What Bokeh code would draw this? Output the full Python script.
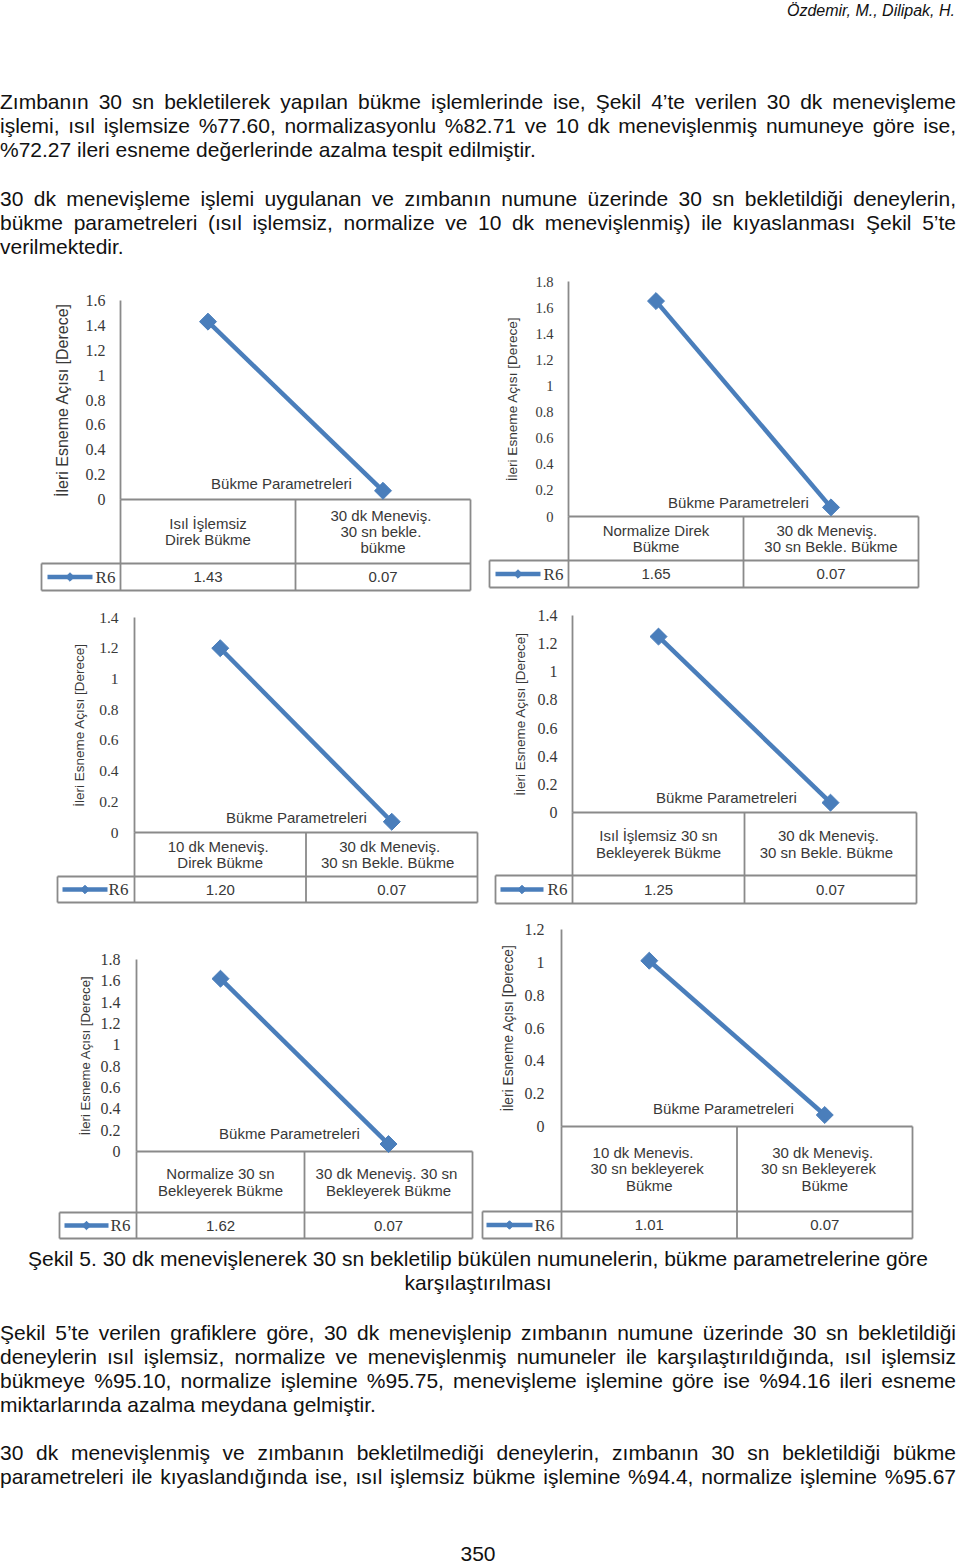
import math
from bokeh.plotting import figure
from bokeh.models import Range1d, LinearAxis, FixedTicker, Div
from bokeh.layouts import column, row
from bokeh.core.properties import value
from bokeh.embed import file_html
from bokeh.resources import INLINE

# ---------------- data ----------------
series_name = "R6"
y_title = "İleri Esneme Açısı [Derece]"
x_title = "Bükme Parametreleri"

cats_1 = ["Isıl İşlemsiz\nDirek Bükme", "30 dk  Meneviş.\n30 sn  bekle.\nbükme"]
vals_1 = [1.43, 0.07]
ticks_1 = [0, 0.2, 0.4, 0.6, 0.8, 1, 1.2, 1.4, 1.6]
ticklabels_1 = ["0", "0.2", "0.4", "0.6", "0.8", "1", "1.2", "1.4", "1.6"]

cats_2 = ["Normalize Direk\nBükme", "30 dk   Meneviş.\n30 sn Bekle. Bükme"]
vals_2 = [1.65, 0.07]
ticks_2 = [0, 0.2, 0.4, 0.6, 0.8, 1, 1.2, 1.4, 1.6, 1.8]
ticklabels_2 = ["0", "0.2", "0.4", "0.6", "0.8", "1", "1.2", "1.4", "1.6", "1.8"]

cats_3 = ["10 dk  Meneviş.\nDirek Bükme", "30 dk  Meneviş.\n30 sn   Bekle. Bükme"]
vals_3 = [1.20, 0.07]
ticks_3 = [0, 0.2, 0.4, 0.6, 0.8, 1, 1.2, 1.4]
ticklabels_3 = ["0", "0.2", "0.4", "0.6", "0.8", "1", "1.2", "1.4"]

cats_4 = ["Isıl İşlemsiz 30 sn\nBekleyerek Bükme", "30 dk  Meneviş.\n30 sn  Bekle.  Bükme"]
vals_4 = [1.25, 0.07]
ticks_4 = [0, 0.2, 0.4, 0.6, 0.8, 1, 1.2, 1.4]
ticklabels_4 = ["0", "0.2", "0.4", "0.6", "0.8", "1", "1.2", "1.4"]

cats_5 = ["Normalize 30 sn\nBekleyerek Bükme", "30 dk  Meneviş. 30 sn\nBekleyerek Bükme"]
vals_5 = [1.62, 0.07]
ticks_5 = [0, 0.2, 0.4, 0.6, 0.8, 1, 1.2, 1.4, 1.6, 1.8]
ticklabels_5 = ["0", "0.2", "0.4", "0.6", "0.8", "1", "1.2", "1.4", "1.6", "1.8"]

cats_6 = ["10 dk    Menevis.\n30 sn  bekleyerek\nBükme", "30 dk  Meneviş.\n30 sn    Bekleyerek\nBükme"]
vals_6 = [1.01, 0.07]
ticks_6 = [0, 0.2, 0.4, 0.6, 0.8, 1, 1.2]
ticklabels_6 = ["0", "0.2", "0.4", "0.6", "0.8", "1", "1.2"]

header_text = "Özdemir, M., Dilipak, H."
para1_lines = [
    "Zımbanın 30 sn bekletilerek yapılan bükme işlemlerinde ise, Şekil 4’te verilen 30 dk menevişleme",
    "işlemi, ısıl işlemsize %77.60, normalizasyonlu %82.71 ve 10 dk menevişlenmiş numuneye göre ise,",
    "%72.27 ileri esneme değerlerinde azalma tespit edilmiştir.",
]
para2_lines = [
    "30 dk menevişleme işlemi uygulanan ve zımbanın numune üzerinde 30 sn bekletildiği deneylerin,",
    "bükme parametreleri (ısıl işlemsiz, normalize ve 10 dk menevişlenmiş) ile kıyaslanması Şekil 5’te",
    "verilmektedir.",
]
caption_lines = [
    "Şekil 5. 30 dk menevişlenerek 30 sn bekletilip bükülen numunelerin, bükme parametrelerine göre",
    "karşılaştırılması",
]
para3_lines = [
    "Şekil 5’te verilen grafiklere göre, 30 dk menevişlenip zımbanın numune üzerinde 30 sn bekletildiği",
    "deneylerin ısıl işlemsiz, normalize ve menevişlenmiş numuneler ile karşılaştırıldığında, ısıl işlemsiz",
    "bükmeye %95.10, normalize işlemine %95.75, menevişleme işlemine göre ise %94.16 ileri esneme",
    "miktarlarında azalma meydana gelmiştir.",
]
para4_lines = [
    "30 dk menevişlenmiş ve zımbanın bekletilmediği deneylerin, zımbanın 30 sn bekletildiği bükme",
    "parametreleri ile kıyaslandığında ise, ısıl işlemsiz bükme işlemine %94.4, normalize işlemine %95.67",
]
page_number = "350"

# ---------------- styling / layout ----------------
SANS = "Liberation Sans"
SERIF = "Liberation Serif"
BLUE = "#4A7EBB"
RULE = "#8A8A8A"
TXT = "#383838"
FIG_W = 480
TEXT_W = 956

charts = [
    dict(cats=cats_1, vals=vals_1, ticks=ticks_1, labels=ticklabels_1),
    dict(cats=cats_2, vals=vals_2, ticks=ticks_2, labels=ticklabels_2),
    dict(cats=cats_3, vals=vals_3, ticks=ticks_3, labels=ticklabels_3),
    dict(cats=cats_4, vals=vals_4, ticks=ticks_4, labels=ticklabels_4),
    dict(cats=cats_5, vals=vals_5, ticks=ticks_5, labels=ticklabels_5),
    dict(cats=cats_6, vals=vals_6, ticks=ticks_6, labels=ticklabels_6),
]

# page-pixel geometry of each chart box
geo = [
    dict(fl=0, ft=270, h=325, ax=120, right=470, tl=41, y0=499, ytop=300, cat_bot=563, dat_bot=590,
         tx=281, ty=483, r6=105, k0=47, k1=92, tick_fs=16, lab_fs=16, tick_so=15, lab_so=12),
    dict(fl=480, ft=270, h=325, ax=568, right=918, tl=489, y0=516, ytop=281, cat_bot=560, dat_bot=587,
         tx=738, ty=502, r6=553, k0=495, k1=540, tick_fs=14.5, lab_fs=13.6, tick_so=15, lab_so=12),
    dict(fl=0, ft=595, h=315, ax=134, right=477, tl=57, y0=832, ytop=617, cat_bot=876, dat_bot=902,
         tx=296, ty=817, r6=118, k0=62, k1=107, tick_fs=15.5, lab_fs=13.5, tick_so=16, lab_so=9),
    dict(fl=480, ft=595, h=315, ax=572, right=916, tl=495, y0=812, ytop=615, cat_bot=875, dat_bot=903,
         tx=726, ty=797, r6=557, k0=500, k1=543, tick_fs=16, lab_fs=13.5, tick_so=15, lab_so=7),
    dict(fl=0, ft=910, h=332, ax=136, right=472, tl=59, y0=1151, ytop=959, cat_bot=1212, dat_bot=1238,
         tx=289, ty=1133, r6=120, k0=64, k1=108, tick_fs=16, lab_fs=13.2, tick_so=16, lab_so=5),
    dict(fl=480, ft=910, h=332, ax=561, right=912, tl=482, y0=1126, ytop=929, cat_bot=1211, dat_bot=1238,
         tx=723, ty=1108, r6=544, k0=486, k1=532, tick_fs=16, lab_fs=13.8, tick_so=17, lab_so=6),
]


def make_chart(c, g):
    n = len(c["cats"])
    H = g["h"]
    cw = (g["right"] - g["ax"]) / float(n)
    ppu = (g["y0"] - g["ytop"]) / float(c["ticks"][-1])

    def px2x(px):
        return (px - g["ax"]) / cw

    def py2y(py):
        return (g["y0"] - py) / ppu

    p = figure(width=FIG_W, height=H,
               x_range=Range1d(px2x(g["fl"]), px2x(g["fl"] + FIG_W)),
               y_range=Range1d(py2y(g["ft"] + H), py2y(g["ft"])),
               x_axis_type=None, y_axis_type=None, toolbar_location=None, tools="",
               output_backend="svg", min_border=0, outline_line_color=None,
               background_fill_color="white", border_fill_color="white", margin=0)

    yax = LinearAxis(fixed_location=0, bounds=(0, c["ticks"][-1]),
                     ticker=FixedTicker(ticks=c["ticks"], minor_ticks=[]),
                     major_label_overrides={t: l for t, l in zip(c["ticks"], c["labels"])},
                     axis_label=y_title, axis_label_text_font=SANS,
                     axis_label_text_font_size=f"{g['lab_fs']}px",
                     axis_label_text_font_style="normal", axis_label_text_color=TXT,
                     axis_label_standoff=g["lab_so"],
                     major_label_text_font=SERIF, major_label_text_font_size=f"{g['tick_fs']}px",
                     major_label_text_color=TXT, major_label_standoff=g["tick_so"],
                     major_tick_line_color=None, minor_tick_line_color=None,
                     major_tick_in=0, major_tick_out=0, minor_tick_in=0, minor_tick_out=0,
                     axis_line_color=RULE, axis_line_width=1.8)
    p.add_layout(yax, "left")

    yc = py2y(g["cat_bot"])
    yd = py2y(g["dat_bot"])
    xl = px2x(g["tl"])

    # data table grid
    x0 = [0, xl, xl, xl] + list(range(0, n + 1))
    y0 = [0, yc, yd, yc] + [0] * (n + 1)
    x1 = [n, n, n, xl] + list(range(0, n + 1))
    y1 = [0, yc, yd, yd] + [yd] * (n + 1)
    p.segment(x0=x0, y0=y0, x1=x1, y1=y1, line_color=RULE, line_width=1.8)

    xs = [i + 0.5 for i in range(n)]
    p.line(xs, c["vals"], line_color=BLUE, line_width=4.5)
    p.scatter(xs, c["vals"], marker="square", angle=math.pi / 4, size=12,
              fill_color=BLUE, line_color=BLUE)

    # axis title
    p.text(x=[px2x(g["tx"])], y=[py2y(g["ty"])], text=[x_title], text_align="center",
           text_baseline="middle", text_font=value(SANS), text_font_size="15px", text_color=TXT)
    # category labels
    p.text(x=xs, y=[yc / 2.0] * n, text=c["cats"], text_align="center", text_baseline="middle",
           text_font=value(SANS), text_font_size="15px", text_color=TXT, text_line_height=0.97)
    # values row
    ym = (yc + yd) / 2.0
    p.text(x=xs, y=[ym] * n, text=[f"{v:.2f}" for v in c["vals"]], text_align="center",
           text_baseline="middle", text_font=value(SANS), text_font_size="15px", text_color=TXT)
    p.text(x=[px2x(g["r6"])], y=[ym], text=[series_name], text_align="center",
           text_baseline="middle", text_font=value(SERIF), text_font_size="17px", text_color=TXT)
    # legend key
    kx = [px2x(g["k0"]), px2x(g["k1"])]
    p.line(kx, [ym, ym], line_color=BLUE, line_width=4.5)
    p.scatter([(kx[0] + kx[1]) / 2.0], [ym], marker="square", angle=math.pi / 4, size=6,
              fill_color=BLUE, line_color=BLUE)
    return p


figs = [make_chart(c, g) for c, g in zip(charts, geo)]

BODY = ("font-family:'Liberation Sans',Arial,sans-serif;font-size:21px;"
        "line-height:24px;color:#111;")


def line_html(top, txt, mode):
    if mode == "justify":
        al = "text-align:justify;text-align-last:justify;"
    elif mode == "center":
        al = "text-align:center;"
    else:
        al = "text-align:left;"
    return (f'<div style="position:absolute;left:0;top:{top}px;width:{TEXT_W}px;height:24px;'
            f'{al}">{txt}</div>')


def para_html(tops, lines, last_justified=False):
    out = []
    for i, (t, s) in enumerate(zip(tops, lines)):
        last = i == len(lines) - 1
        out.append(line_html(t, s, "justify" if (not last or last_justified) else "left"))
    return "".join(out)


TOP_H = 270
BOT_H = 322

top_html = (f'<div style="position:relative;width:960px;height:{TOP_H}px;{BODY}">'
            f'<div style="position:absolute;right:5px;top:2px;line-height:18px;font-size:16px;'
            f'font-style:italic;">{header_text}</div>'
            + para_html([90, 114, 138], para1_lines)
            + para_html([187, 211, 235], para2_lines)
            + '</div>')

bot_html = (f'<div style="position:relative;width:960px;height:{BOT_H}px;{BODY}">'
            + "".join(f'<div style="position:absolute;left:0;top:{t}px;width:{TEXT_W}px;'
                      f'height:24px;text-align:center;">{s}</div>'
                      for t, s in zip([5, 29], caption_lines))
            + para_html([79, 103, 127, 151], para3_lines)
            + para_html([199, 223], para4_lines, last_justified=True)
            + f'<div style="position:absolute;left:0;top:302px;width:{TEXT_W}px;height:20px;'
              f'line-height:20px;text-align:center;">{page_number}</div>'
            + '</div>')

top_div = Div(text=top_html, width=960, height=TOP_H, margin=0)
bot_div = Div(text=bot_html, width=960, height=BOT_H, margin=0)

layout = column(
    top_div,
    row(figs[0], figs[1], spacing=0, margin=0),
    row(figs[2], figs[3], spacing=0, margin=0),
    row(figs[4], figs[5], spacing=0, margin=0),
    bot_div,
    spacing=0, margin=0,
)

open("out.html", "w").write(file_html(layout, INLINE))
